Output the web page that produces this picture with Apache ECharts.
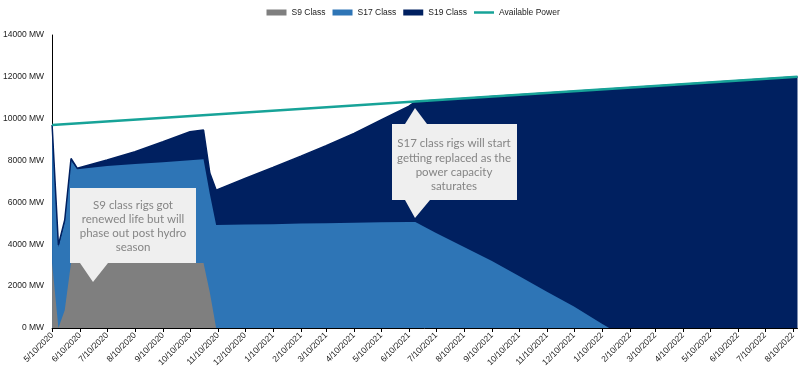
<!DOCTYPE html>
<html>
<head>
<meta charset="utf-8">
<script src="https://cdn.jsdelivr.net/npm/echarts@6/dist/echarts.min.js"></script>
<style>
html,body{margin:0;padding:0;background:#fff;}
#c{width:808px;height:380px;}
</style>
</head>
<body>
<div id="c"></div>
<script>
// ---- data ----
const dates = ['2020-05-10','2020-05-17','2020-05-24','2020-05-31','2020-06-07','2020-07-10','2020-08-10','2020-09-10','2020-10-10','2020-10-25','2020-11-01','2020-11-08','2020-12-10','2021-01-10','2021-02-10','2021-03-10','2021-04-10','2021-05-10','2021-06-10','2021-06-17','2021-07-10','2021-08-10','2021-09-10','2021-10-10','2021-11-10','2021-12-10','2022-01-10','2022-01-18','2022-08-15'];
const s9Class  = [3100,0,850,3100,3100,3100,3100,3100,3100,3100,1700,0,0,0,0,0,0,0,0,0,0,0,0,0,0,0,0,0,0];
const s17Class = [6500,3870,4210,4900,4480,4640,4740,4820,4920,4960,4700,4920,4940,4960,4990,5010,5030,5050,5070,5070,4540,3870,3200,2480,1730,1030,200,0,0];
const s19Class = [100,100,100,100,50,290,580,980,1360,1400,1000,1670,2200,2710,3220,3700,4270,4890,5530,5750,6340,7100,7860,8660,9500,10280,11200,11420,12000];
const powerDates = ['2020-05-10','2021-06-17','2022-08-15'];
const availablePower = [9700,10820,12000];
const tickDates = ['2020-05-10','2020-06-10','2020-07-10','2020-08-10','2020-09-10','2020-10-10','2020-11-10','2020-12-10','2021-01-10','2021-02-10','2021-03-10','2021-04-10','2021-05-10','2021-06-10','2021-07-10','2021-08-10','2021-09-10','2021-10-10','2021-11-10','2021-12-10','2022-01-10','2022-02-10','2022-03-10','2022-04-10','2022-05-10','2022-06-10','2022-07-10','2022-08-10'];
const xStart = '2020-05-10', xEnd = '2022-08-15';
const yTicks = {min:0, max:14000, interval:2000};

function toTime(s){ const p = s.split('-').map(Number); return Date.UTC(p[0], p[1]-1, p[2]); }
function fmt(v){ const d = new Date(v); return (d.getUTCMonth()+1)+'/'+d.getUTCDate()+'/'+d.getUTCFullYear(); }

const font = '"Liberation Sans Narrow", "Arial Narrow", "Liberation Sans", Arial, sans-serif';
const tickVals = tickDates.map(toTime);

// cumulative tops (stacking done here; each area fills down to 0 and is drawn under the one below it)
const top9  = s9Class.slice();
const top17 = s17Class.map((v,i)=>v + top9[i]);
const top19 = s19Class.map((v,i)=>v + top17[i]);
const pair = arr => dates.map((t,i)=>[toTime(t), arr[i]]);

const C9 = '#7f7f7f', C17 = '#2e75b6', C19 = '#002060', CP = '#17a398';

const chart = echarts.init(document.getElementById('c'), null, {renderer:'canvas'});
const areaSeries = (name, arr, color, lw) => ({
  name, type:'line', data: pair(arr), symbol:'none', smooth:false,
  lineStyle:{width:lw, color:color, opacity: lw ? 1 : 0},
  areaStyle:{color:color, opacity:1, origin:'start'},
  itemStyle:{color:color}, emphasis:{disabled:true}
});

const legendText = {fontFamily:font, fontSize:8.5, color:'#222'};
chart.setOption({
  animation:false,
  legend:[{
    left:261.5, top:3, itemWidth:20, itemHeight:6, itemGap:7, selectedMode:false,
    textStyle:legendText,
    data:[
      {name:'S9 Class', icon:'rect'},
      {name:'S17 Class', icon:'rect'},
      {name:'S19 Class', icon:'rect'}
    ]
  },{
    left:469, top:3, itemWidth:20, itemHeight:2.5, selectedMode:false,
    textStyle:legendText,
    data:[{name:'Available Power', icon:'rect'}]
  }],
  grid:{left:52, right:10.5, top:35, bottom:52, containLabel:false},
  xAxis:{
    type:'value', min:toTime(xStart), max:toTime(xEnd),
    axisLine:{show:true, lineStyle:{color:'#000', width:1}},
    axisTick:{show:true, length:4, lineStyle:{color:'#000'}, customValues:tickVals},
    axisLabel:{customValues:tickVals, rotate:45, formatter:fmt, fontFamily:font, fontSize:8.5, color:'#222', margin:6, hideOverlap:false, showMinLabel:true, showMaxLabel:true},
    splitLine:{show:false}, minorTick:{show:false}
  },
  yAxis:{
    type:'value', min:yTicks.min, max:yTicks.max, interval:yTicks.interval,
    axisLine:{show:true, lineStyle:{color:'#000', width:1}},
    axisTick:{show:false},
    axisLabel:{formatter:v => v + ' MW', fontFamily:font, fontSize:8.5, color:'#222', margin:8},
    splitLine:{show:false}
  },
  series:[
    areaSeries('S19 Class', top19, C19, 1.5),
    areaSeries('S17 Class', top17, C17, 0),
    areaSeries('S9 Class', top9, C9, 0),
    {name:'Available Power', type:'line', data: powerDates.map((t,i)=>[toTime(t), availablePower[i]]),
     symbol:'none', lineStyle:{width:2.5, color:CP}, itemStyle:{color:CP}, z:5, emphasis:{disabled:true}}
  ],
  graphic:[
    {type:'polygon', z:100, shape:{points:[[70,188],[196,188],[196,263],[108,263],[93,282],[80,263],[70,263]]}, style:{fill:'#efefef'}},
    {type:'text', z:101, x:133, y:226, style:{text:'S9 class rigs got\nrenewed life but will\nphase out post hydro\nseason', fill:'#858585', font:'11.5px Lato', align:'center', verticalAlign:'middle', lineHeight:14}},
    {type:'polygon', z:100, shape:{points:[[392,124],[405,124],[415,108],[427,124],[517,124],[517,200],[430,200],[415,218],[405,200],[392,200]]}, style:{fill:'#efefef'}},
    {type:'text', z:101, x:454, y:165, style:{text:'S17 class rigs will start\ngetting replaced as the\npower capacity\nsaturates', fill:'#858585', font:'11.5px Lato', align:'center', verticalAlign:'middle', lineHeight:14.2}}
  ]
});
</script>
</body>
</html>
